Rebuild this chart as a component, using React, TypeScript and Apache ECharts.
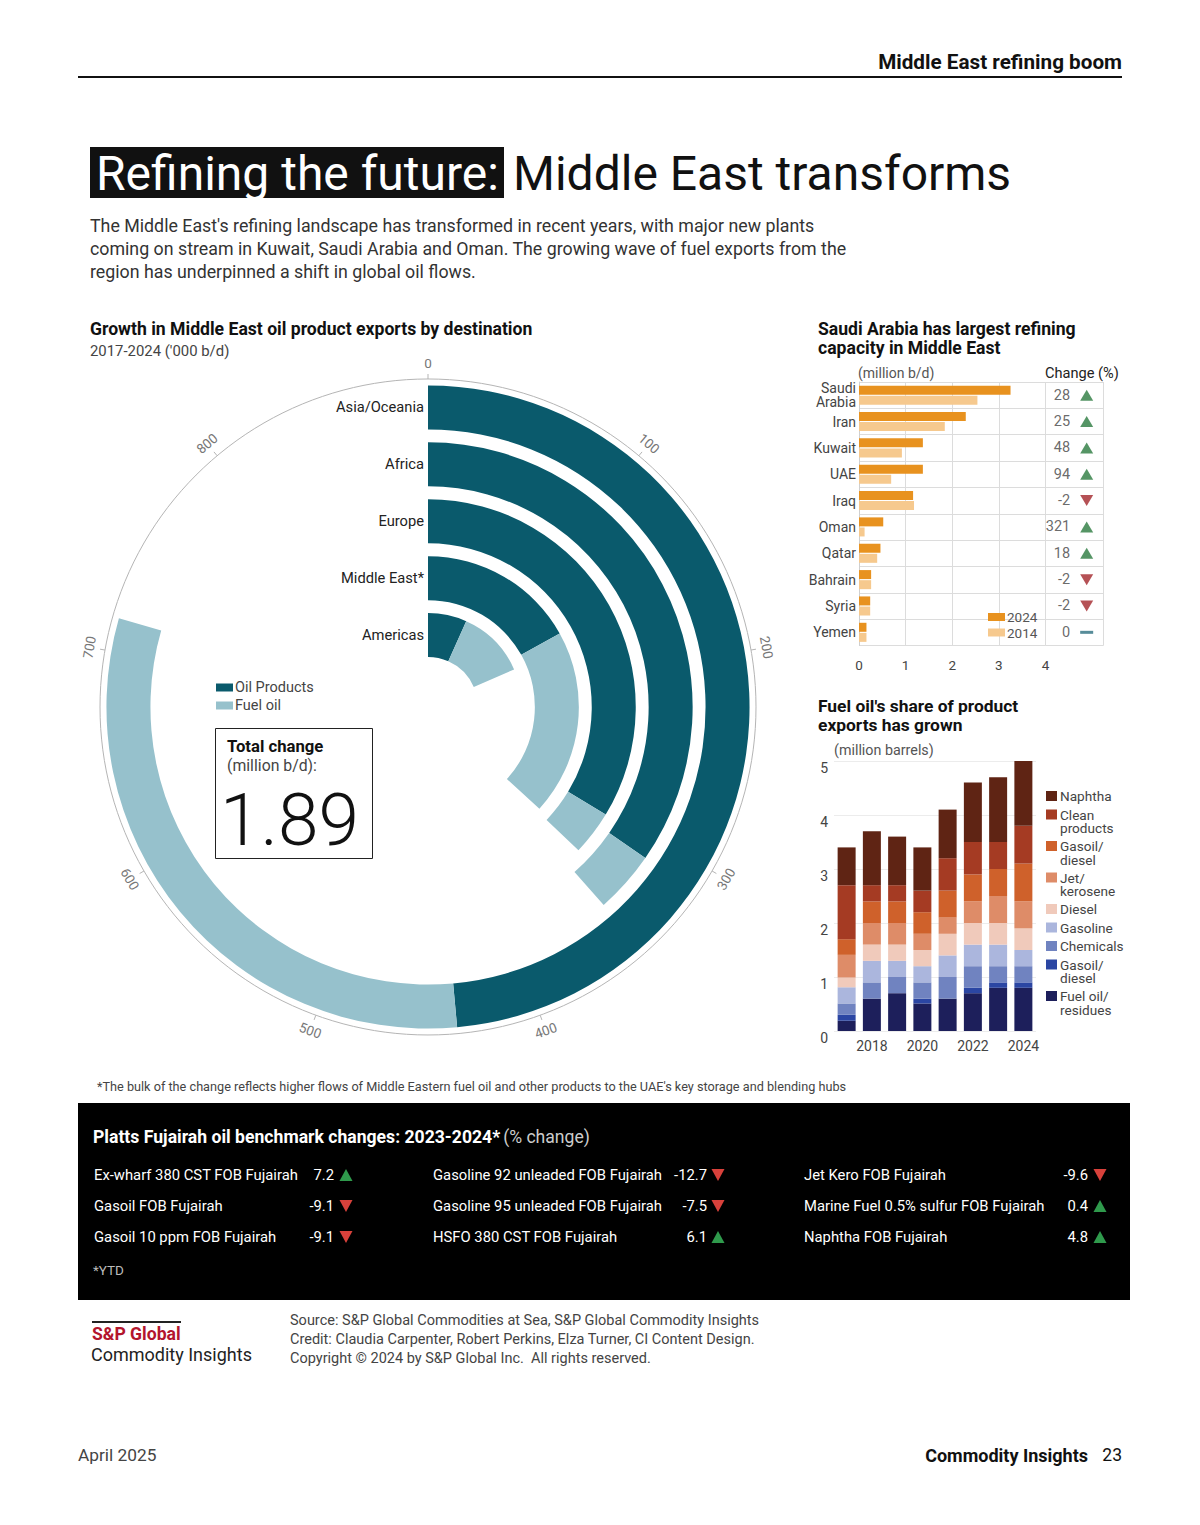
import React, { useEffect, useRef } from 'react';
import * as echarts from 'echarts';

const FONT = 'Roboto, "Liberation Sans", Arial, sans-serif';

// ---- Radial chart: growth in ME oil product exports by destination ('000 b/d)
const destinations = ['Americas', 'Middle East*', 'Europe', 'Africa', 'Asia/Oceania'];
const oilProducts = [60, 152, 303, 312, 437];
const fuelOil = [106, 179, 31, 34, 278];
const angleTicks = [0, 100, 200, 300, 400, 500, 600, 700, 800];
const angleMax = 900;
const totalChange = '1.89';

// ---- Saudi capacity chart (million b/d)
const countries = ['Saudi\nArabia', 'Iran', 'Kuwait', 'UAE', 'Iraq', 'Oman', 'Qatar', 'Bahrain', 'Syria', 'Yemen'];
const capacity2024 = [3.25, 2.29, 1.37, 1.37, 1.16, 0.52, 0.46, 0.26, 0.24, 0.16];
const capacity2014 = [2.54, 1.84, 0.92, 0.69, 1.18, 0.12, 0.39, 0.26, 0.24, 0.16];
const capacityChange = [28, 25, 48, 94, -2, 321, 18, -2, -2, 0];

// ---- Fuel oil share chart (million barrels)
const years = ['2017', '2018', '2019', '2020', '2021', '2022', '2023', '2024'];
const productNames = ['Fuel oil/\nresidues', 'Gasoil/\ndiesel', 'Chemicals', 'Gasoline', 'Diesel', 'Jet/\nkerosene', 'Gasoil/\ndiesel', 'Clean\nproducts', 'Naphtha'];
const productColors = ['#1d1f5b', '#2b46a3', '#7083c0', '#abb6dd', '#f0cabb', '#de8c68', '#cf612b', '#a53b23', '#5f2414'];
const fuelOilResidues = [0.19, 0.60, 0.70, 0.51, 0.60, 0.70, 0.80, 0.80];
const gasoilDieselBlue = [0.11, 0, 0, 0.09, 0, 0.10, 0.10, 0.10];
const chemicals = [0.21, 0.30, 0.30, 0.30, 0.40, 0.40, 0.30, 0.30];
const gasoline = [0.30, 0.40, 0.30, 0.30, 0.40, 0.40, 0.40, 0.30];
const diesel = [0.18, 0.30, 0.30, 0.30, 0.40, 0.40, 0.40, 0.40];
const jetKerosene = [0.42, 0.40, 0.40, 0.30, 0.30, 0.40, 0.50, 0.50];
const gasoilDieselOrange = [0.29, 0.40, 0.40, 0.40, 0.50, 0.50, 0.50, 0.70];
const cleanProducts = [1.00, 0.30, 0.30, 0.40, 0.60, 0.60, 0.50, 0.70];
const naphtha = [0.70, 1.00, 0.90, 0.80, 0.90, 1.10, 1.20, 1.20];
const productSeries = [fuelOilResidues, gasoilDieselBlue, chemicals, gasoline, diesel, jetKerosene, gasoilDieselOrange, cleanProducts, naphtha];

// ---- Platts Fujairah benchmark table (% change)
const benchNames = [
  ['Ex-wharf 380 CST FOB Fujairah', 'Gasoil FOB Fujairah', 'Gasoil 10 ppm FOB Fujairah'],
  ['Gasoline 92 unleaded FOB Fujairah', 'Gasoline 95 unleaded FOB Fujairah', 'HSFO 380 CST FOB Fujairah'],
  ['Jet Kero FOB Fujairah', 'Marine Fuel 0.5% sulfur FOB Fujairah', 'Naphtha FOB Fujairah'],
];
const benchValues = [
  [7.2, -9.1, -9.1],
  [-12.7, -7.5, 6.1],
  [-9.6, 0.4, 4.8],
];

const introLines = [
  "The Middle East's refining landscape has transformed in recent years, with major new plants",
  'coming on stream in Kuwait, Saudi Arabia and Oman. The growing wave of fuel exports from the',
  'region has underpinned a shift in global oil flows.',
];
const sourceLines = [
  'Source: S&P Global Commodities at Sea, S&P Global Commodity Insights',
  'Credit: Claudia Carpenter, Robert Perkins, Elza Turner, CI Content Design.',
  'Copyright © 2024 by S&P Global Inc.  All rights reserved.',
];

function txt(text: string, x: number, y: number, o: any = {}) {
  return {
    type: 'text',
    x,
    y,
    rotation: o.rotation || 0,
    z: 50,
    style: {
      text,
      fill: o.fill || '#222',
      fontSize: o.size || 14,
      fontFamily: FONT,
      fontWeight: o.weight || 'normal',
      align: o.align || 'left',
      verticalAlign: o.valign || 'middle',
      lineHeight: o.lineHeight,
    },
  };
}

function tri(cx: number, cy: number, up: boolean, color: string, w = 12, h = 11) {
  const pts = up
    ? [[cx - w / 2, cy + h / 2], [cx + w / 2, cy + h / 2], [cx, cy - h / 2]]
    : [[cx - w / 2, cy - h / 2], [cx + w / 2, cy - h / 2], [cx, cy + h / 2]];
  return { type: 'polygon', z: 50, shape: { points: pts }, style: { fill: color } };
}

export default function App() {
  const ref = useRef<HTMLDivElement>(null);

  useEffect(() => {
    document.body.style.margin = '0';
    const chart = echarts.init(ref.current!, null, { renderer: 'svg' });

    const cx = 428;
    const cy = 707;
    const rOuter = 328;

    const graphics: any[] = [];
    // Header
    graphics.push(txt('Middle East refining boom', 1122, 62, { size: 20.7, weight: 'bold', align: 'right', fill: '#111' }));
    graphics.push({ type: 'line', shape: { x1: 78, y1: 77, x2: 1122, y2: 77 }, style: { stroke: '#111', lineWidth: 2 } });
    // Title
    graphics.push({ type: 'rect', shape: { x: 90, y: 147, width: 414, height: 51 }, style: { fill: '#111' } });
    graphics.push(txt('Refining the future:', 96, 173, { size: 48, fill: '#fff' }));
    graphics.push(txt('Middle East transforms', 513, 173, { size: 48, fill: '#111' }));
    introLines.forEach((l, i) => graphics.push(txt(l, 90, 225 + i * 23, { size: 17.8, fill: '#333' })));

    // Radial chart titles
    graphics.push(txt('Growth in Middle East oil product exports by destination', 90, 329, { size: 17.6, weight: 'bold', fill: '#111' }));
    graphics.push(txt("2017-2024 ('000 b/d)", 90, 351, { size: 14.9, fill: '#444' }));
    // Outer circle of the angle axis
    graphics.push({ type: 'circle', shape: { cx, cy, r: rOuter }, style: { fill: 'none', stroke: '#b5b5b5', lineWidth: 1 }, z: 1 });
    // Angle axis tick labels (tangential)
    angleTicks.forEach((v) => {
      const deg = (v / angleMax) * 360;
      const rad = (deg * Math.PI) / 180;
      const r = rOuter + 16;
      const x = cx + r * Math.sin(rad);
      const y = cy - r * Math.cos(rad);
      let rot = deg;
      if (deg > 90 && deg < 270) rot = deg - 180;
      else if (deg >= 270) rot = deg - 360;
      graphics.push(txt(String(v), x, y, { size: 13.5, fill: '#777', align: 'center', rotation: (-rot * Math.PI) / 180 }));
    });
    // Total change box
    graphics.push({ type: 'rect', shape: { x: 215.5, y: 728.5, width: 157, height: 130 }, style: { fill: 'none', stroke: '#222', lineWidth: 1 } });
    graphics.push(txt('Total change', 227, 746, { size: 16.7, weight: 'bold', fill: '#111' }));
    graphics.push(txt('(million b/d):', 227, 765, { size: 15.8, fill: '#444' }));
    graphics.push(txt(totalChange, 220, 820, { size: 73, weight: 300, fill: '#111' }));

    // Saudi chart titles
    graphics.push(txt('Saudi Arabia has largest refining', 818, 329, { size: 17.6, weight: 'bold', fill: '#111' }));
    graphics.push(txt('capacity in Middle East', 818, 348, { size: 17.6, weight: 'bold', fill: '#111' }));
    graphics.push(txt('(million b/d)', 858, 373, { size: 14, fill: '#555' }));
    graphics.push(txt('Change (%)', 1045, 373, { size: 14.6, fill: '#222' }));

    // Fuel chart titles
    graphics.push(txt("Fuel oil's share of product", 818, 706, { size: 17.4, weight: 'bold', fill: '#111' }));
    graphics.push(txt('exports has grown', 818, 725, { size: 17.4, weight: 'bold', fill: '#111' }));
    graphics.push(txt('(million barrels)', 834, 750, { size: 14.3, fill: '#555' }));
    // Fuel chart legend (top to bottom = reverse of stack order)
    let ly = 789.5;
    for (let i = productNames.length - 1; i >= 0; i--) {
      const lines = productNames[i].split('\n').length;
      graphics.push({ type: 'rect', shape: { x: 1046, y: ly + 1.5, width: 11, height: 10 }, style: { fill: productColors[i] } });
      graphics.push(txt(productNames[i], 1060, ly, { size: 13.6, fill: '#444', valign: 'top', lineHeight: 13.6 }));
      ly += lines === 1 ? 18.5 : 31.5;
    }

    // Footnote
    graphics.push(txt("*The bulk of the change reflects higher flows of Middle Eastern fuel oil and other products to the UAE's key storage and blending hubs", 97, 1086, { size: 12.7, fill: '#444' }));

    // Black benchmark box
    graphics.push({ type: 'rect', shape: { x: 78, y: 1103, width: 1052, height: 197 }, style: { fill: '#000' } });
    graphics.push({
      type: 'text', x: 93, y: 1137, z: 50,
      style: {
        text: '{b|Platts Fujairah oil benchmark changes: 2023-2024*} {n|(% change)}',
        verticalAlign: 'middle', fontFamily: FONT,
        rich: {
          b: { fontSize: 17.6, fontWeight: 'bold', fill: '#fff', fontFamily: FONT },
          n: { fontSize: 17.6, fill: '#ccc', fontFamily: FONT },
        },
      },
    });
    const colNameX = [94, 433, 804];
    const colValX = [334, 707, 1088];
    const colTriX = [346, 718, 1100];
    benchNames.forEach((col, c) => {
      col.forEach((name, r) => {
        const y = 1175 + r * 31;
        const v = benchValues[c][r];
        graphics.push(txt(name, colNameX[c], y, { size: 14.8, fill: '#fff' }));
        graphics.push(txt(String(v), colValX[c], y, { size: 14.8, fill: '#fff', align: 'right' }));
        graphics.push(tri(colTriX[c], y, v > 0, v > 0 ? '#2f9a4c' : '#d8413b', 13, 12));
      });
    });
    graphics.push(txt('*YTD', 93, 1270, { size: 13.5, fill: '#bbb' }));

    // Footer logo & source
    graphics.push({ type: 'line', shape: { x1: 92, y1: 1322, x2: 181, y2: 1322 }, style: { stroke: '#222', lineWidth: 2 } });
    graphics.push(txt('S&P Global', 92, 1334, { size: 17.6, weight: 'bold', fill: '#b3152d' }));
    graphics.push(txt('Commodity Insights', 91, 1354, { size: 18, fill: '#222' }));
    sourceLines.forEach((l, i) => graphics.push(txt(l, 290, 1320 + i * 19, { size: 14.5, fill: '#444' })));
    graphics.push(txt('April 2025', 78, 1455, { size: 17.3, fill: '#444' }));
    graphics.push(txt('Commodity Insights', 1088, 1455, { size: 18, weight: 'bold', fill: '#111', align: 'right' }));
    graphics.push(txt('23', 1122, 1455, { size: 17.5, fill: '#111', align: 'right' }));

    const option: any = {
      animation: false,
      backgroundColor: '#fff',
      textStyle: { fontFamily: FONT },
      legend: [
        {
          data: ['Oil Products', 'Fuel oil'],
          orient: 'vertical', left: 216, top: 680, padding: 0, itemWidth: 17, itemHeight: 8, itemGap: 3,
          icon: 'rect', selectedMode: false,
          textStyle: { fontSize: 14.5, color: '#444', fontFamily: FONT, padding: [0, 0, 0, -3] },
        },
        {
          data: ['2024', '2014'],
          orient: 'vertical', left: 988, top: 610, padding: 0, itemWidth: 17, itemHeight: 8, itemGap: 1.5,
          icon: 'rect', selectedMode: false,
          textStyle: { fontSize: 13.5, color: '#555', fontFamily: FONT, padding: [0, 0, 0, -3] },
        },
      ],
      polar: { center: [cx, cy], radius: [43.5, rOuter] },
      angleAxis: {
        type: 'value', min: 0, max: angleMax, interval: 100, startAngle: 90, clockwise: true,
        axisLine: { show: false },
        axisTick: { show: true, length: 5, lineStyle: { color: '#b5b5b5' } },
        axisLabel: { show: false },
        splitLine: { show: false },
      },
      radiusAxis: {
        type: 'category', data: destinations, z: 10,
        axisLine: { show: false }, axisTick: { show: false },
        axisLabel: { interval: 0, fontSize: 14.7, color: '#222', margin: 4, fontFamily: FONT },
      },
      grid: [
        { left: 859, top: 382, width: 186.5, height: 263.5 },
        { left: 1045.5, top: 382, width: 58, height: 263.5 },
        { left: 834, top: 761, width: 202, height: 270 },
      ],
      xAxis: [
        {
          gridIndex: 0, type: 'value', min: 0, max: 4, interval: 1,
          axisLine: { show: false }, axisTick: { show: false },
          axisLabel: { fontSize: 13.5, color: '#444', margin: 12, fontFamily: FONT },
          splitLine: { show: true, lineStyle: { color: '#dcdcdc' } },
        },
        {
          gridIndex: 1, type: 'value', min: 0, max: 1, interval: 1,
          axisLine: { show: false }, axisTick: { show: false }, axisLabel: { show: false },
          splitLine: { show: true, lineStyle: { color: '#dcdcdc' } },
        },
        {
          gridIndex: 2, type: 'category', data: years,
          axisLine: { show: false }, axisTick: { show: false },
          axisLabel: { fontSize: 14, color: '#444', margin: 8, fontFamily: FONT, interval: (i: number) => i % 2 === 1 },
        },
      ],
      yAxis: [
        {
          gridIndex: 0, type: 'category', data: countries, inverse: true,
          axisLine: { show: true, lineStyle: { color: '#cfcfcf' } }, axisTick: { show: false },
          axisLabel: { fontSize: 14, color: '#444', margin: 3, lineHeight: 14, fontFamily: FONT },
          splitLine: { show: true, lineStyle: { color: '#dcdcdc' } },
        },
        {
          gridIndex: 1, type: 'category', data: countries, inverse: true,
          axisLine: { show: false }, axisTick: { show: false }, axisLabel: { show: false },
          splitLine: { show: true, lineStyle: { color: '#dcdcdc' } },
        },
        {
          gridIndex: 2, type: 'value', min: 0, max: 5, interval: 1,
          axisLine: { show: false }, axisTick: { show: false },
          axisLabel: { fontSize: 14, color: '#444', margin: 6, verticalAlign: 'top', fontFamily: FONT },
          splitLine: { show: true, lineStyle: { color: '#ececec' } },
        },
      ],
      series: [
        {
          name: 'Oil Products', type: 'bar', coordinateSystem: 'polar', stack: 'dest',
          data: oilProducts, barWidth: 44, itemStyle: { color: '#0a5a6c' },
        },
        {
          name: 'Fuel oil', type: 'bar', coordinateSystem: 'polar', stack: 'dest',
          data: fuelOil, barWidth: 44, itemStyle: { color: '#96c1cc' },
        },
        {
          name: '2024', type: 'bar', xAxisIndex: 0, yAxisIndex: 0, data: capacity2024,
          barWidth: 9, barGap: '12%', itemStyle: { color: '#e8921f' },
        },
        {
          name: '2014', type: 'bar', xAxisIndex: 0, yAxisIndex: 0, data: capacity2014,
          barWidth: 9, barGap: '12%', itemStyle: { color: '#f6c98e' },
        },
        {
          name: 'Change', type: 'scatter', xAxisIndex: 1, yAxisIndex: 1,
          data: capacityChange.map((v, i) => ({
            value: [0.71, i],
            symbol: v === 0 ? 'rect' : 'triangle',
            symbolRotate: v < 0 ? 180 : 0,
            symbolSize: v === 0 ? [13, 3] : [13, 11],
            itemStyle: { color: v > 0 ? '#2a7a3f' : v < 0 ? '#a3262b' : '#2d6f80' },
          })),
          label: {
            show: true, position: 'left', distance: 10, fontSize: 14.5, color: '#444', fontFamily: FONT,
            formatter: (p: any) => String(capacityChange[p.dataIndex]),
          },
        },
        ...productSeries.map((d, i) => ({
          name: productNames[i].replace('\n', ''),
          type: 'bar', xAxisIndex: 2, yAxisIndex: 2, stack: 'fuel',
          data: d, barWidth: 18, itemStyle: { color: productColors[i] },
        })),
      ],
      graphic: { elements: graphics },
    };

    chart.setOption(option);
    return () => chart.dispose();
  }, []);

  return <div ref={ref} style={{ width: 1200, height: 1525 }} />;
}
